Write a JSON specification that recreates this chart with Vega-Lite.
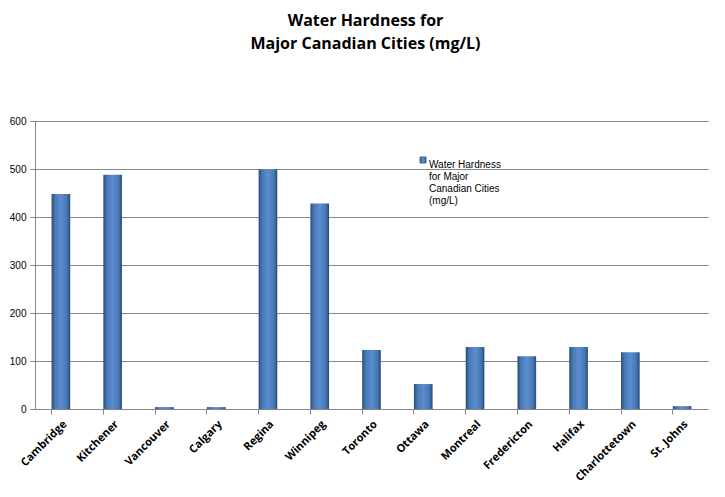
{
  "$schema": "https://vega.github.io/schema/vega-lite/v6.json",
  "width": 673,
  "height": 288,
  "autosize": {"type": "none"},
  "padding": {"left": 35, "top": 121, "right": 17, "bottom": 88},
  "background": "white",
  "title": {
    "text": ["Water Hardness for", "Major Canadian  Cities (mg/L)"],
    "font": "Open Sans",
    "fontSize": 16,
    "fontWeight": "bold",
    "color": "#000000",
    "lineHeight": 23,
    "anchor": "middle",
    "offset": 64,
    "dx": -6
  },
  "data": {
    "values": [
      {"city": "Cambridge", "hardness": 448},
      {"city": "Kitchener", "hardness": 488},
      {"city": "Vancouver", "hardness": 4},
      {"city": "Calgary", "hardness": 4},
      {"city": "Regina", "hardness": 499},
      {"city": "Winnipeg", "hardness": 428},
      {"city": "Toronto", "hardness": 123},
      {"city": "Ottawa", "hardness": 52},
      {"city": "Montreal", "hardness": 129},
      {"city": "Fredericton", "hardness": 110},
      {"city": "Halifax", "hardness": 129},
      {"city": "Charlottetown", "hardness": 118},
      {"city": "St. Johns", "hardness": 6}
    ]
  },
  "mark": {
    "type": "bar",
    "strokeWidth": 0,
    "fill": {
      "gradient": "linear",
      "x1": 0, "y1": 0, "x2": 1, "y2": 0,
      "stops": [
        {"offset": 0, "color": "#284a78"},
        {"offset": 0.18, "color": "#4778b4"},
        {"offset": 0.5, "color": "#5b8ed0"},
        {"offset": 0.82, "color": "#4778b4"},
        {"offset": 1, "color": "#284a78"}
      ]
    }
  },
  "encoding": {
    "x": {
      "field": "city",
      "type": "nominal",
      "sort": null,
      "title": null,
      "scale": {"paddingInner": 0.64, "paddingOuter": 0.32},
      "axis": {
        "labelAngle": -45,
        "labelFont": "Open Sans",
        "labelFontSize": 11,
        "labelFontWeight": "bold",
        "labelColor": "#000000",
        "labelPadding": 4,
        "bandPosition": 0,
        "tickSize": 5,
        "tickColor": "#868686",
        "domainColor": "#868686",
        "grid": false
      }
    },
    "y": {
      "field": "hardness",
      "type": "quantitative",
      "title": null,
      "scale": {"domain": [0, 600]},
      "axis": {
        "values": [0, 100, 200, 300, 400, 500, 600],
        "labelFont": "Liberation Sans",
        "labelFontSize": 10,
        "labelColor": "#000000",
        "labelPadding": 4,
        "tickSize": 5,
        "tickColor": "#868686",
        "domainColor": "#868686",
        "gridColor": "#868686",
        "gridOpacity": 1
      }
    },
    "stroke": {
      "datum": "Water Hardness for Major Canadian Cities (mg/L)",
      "type": "nominal",
      "scale": {"range": ["#3b679f"]},
      "legend": {
        "title": null,
        "orient": "none",
        "legendX": 383,
        "legendY": 34,
        "symbolType": "square",
        "symbolSize": 36,
        "symbolFillColor": "#4f81bd",
        "symbolStrokeWidth": 1,
        "labelFont": "Liberation Sans",
        "labelFontSize": 10,
        "labelColor": "#000000",
        "labelExpr": "['Water Hardness', 'for Major', 'Canadian Cities', '(mg/L)']",
        "labelLimit": 200,
        "labelBaseline": "top",
        "labelOffset": 1
      }
    }
  },
  "config": {
    "view": {"stroke": null}
  }
}
